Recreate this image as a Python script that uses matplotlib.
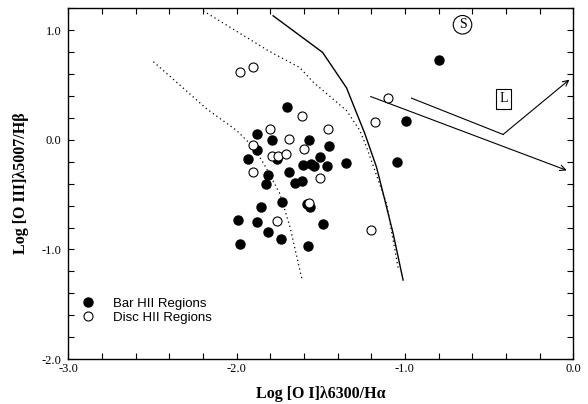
import numpy as np
import matplotlib
matplotlib.use("Agg")
import matplotlib.pyplot as plt
from matplotlib.ticker import MultipleLocator, FormatStrFormatter

plt.rcParams['axes.unicode_minus'] = False

# --------------------- data --------------------- #
# Bar HII regions (filled circles)
bar_x = [-1.703, -1.881, -1.790, -1.569, -1.450, -1.881, -1.931, -1.759,
         -1.505, -1.603, -1.560, -1.540, -1.460, -1.351, -1.688, -1.812,
         -1.826, -1.650, -1.614, -1.733, -1.852, -1.584, -1.565, -1.990,
         -1.881, -1.816, -1.737, -1.489, -1.980, -1.578, -0.800, -0.994,
         -1.050]
bar_y = [0.296, 0.055, -0.006, 0.000, -0.061, -0.097, -0.179, -0.173,
         -0.158, -0.234, -0.220, -0.242, -0.236, -0.213, -0.297, -0.322,
         -0.406, -0.394, -0.376, -0.570, -0.612, -0.582, -0.613, -0.734,
         -0.752, -0.840, -0.909, -0.770, -0.952, -0.965, 0.730, 0.175,
         -0.206]

# Disc HII regions (open circles)
disc_x = [-1.980, -1.905, -1.609, -1.800, -1.454, -1.690, -1.901, -1.600,
          -1.790, -1.752, -1.709, -1.903, -1.505, -1.572, -1.757, -1.203,
          -1.103, -1.179]
disc_y = [0.621, 0.666, 0.212, 0.100, 0.100, 0.006, -0.052, -0.086,
          -0.145, -0.145, -0.127, -0.290, -0.349, -0.580, -0.740, -0.825,
          0.380, 0.160]

# model boundary curves
solid_x = [-1.783, -1.489, -1.347, -1.238, -1.169, -1.129, -1.070, -1.011]
solid_y = [1.130, 0.796, 0.473, 0.055, -0.249, -0.491, -0.855, -1.279]

dot1_x = [-2.494, -2.178, -2.000, -1.901, -1.844, -1.822, -1.743, -1.683, -1.612]
dot1_y = [0.711, 0.282, 0.085, -0.067, -0.204, -0.264, -0.491, -0.794, -1.270]

dot2_x = [-2.198, -1.812, -1.624, -1.545, -1.347, -1.268, -1.228, -1.109, -1.040]
dot2_y = [1.175, 0.812, 0.657, 0.525, 0.266, 0.085, -0.067, -0.583, -1.173]

# shock (S) and low-luminosity (L) tracks
arrow_low = [(-1.204, 0.394), (-0.039, -0.279)]
track_L = [(-0.961, 0.379), (-0.417, 0.048), (-0.023, 0.548)]

# ---------------------------- plotting ------------------------------ #
fig = plt.figure(figsize=(5.88, 4.04), dpi=100)
ax = fig.add_axes([0.116, 0.111, 0.859, 0.869])

ax.plot(solid_x, solid_y, 'k-', lw=1.0)
ax.plot(dot1_x, dot1_y, color='k', lw=0.9, linestyle=(0, (1, 2.5)))
ax.plot(dot2_x, dot2_y, color='k', lw=0.9, linestyle=(0, (1, 2.5)))

ax.plot(bar_x, bar_y, 'o', color='k', markersize=6.5, mec='k',
        label='Bar HII Regions', zorder=3)
ax.plot(disc_x, disc_y, 'o', mfc='white', mec='k', markersize=6.5, mew=0.8,
        label='Disc HII Regions', zorder=4)

# arrows
ax.annotate('', xy=arrow_low[1], xytext=arrow_low[0],
            arrowprops=dict(arrowstyle='->', lw=0.8, color='k',
                            shrinkA=0, shrinkB=0))
ax.plot([track_L[0][0], track_L[1][0]], [track_L[0][1], track_L[1][1]],
        'k-', lw=0.8)
ax.annotate('', xy=track_L[2], xytext=track_L[1],
            arrowprops=dict(arrowstyle='->', lw=0.8, color='k',
                            shrinkA=0, shrinkB=0))

ax.text(-0.658, 1.048, 'S', family='Liberation Serif', fontsize=10,
        ha='center', va='center',
        bbox=dict(boxstyle='circle,pad=0.2', fc='white', ec='k', lw=0.8))
ax.text(-0.413, 0.372, 'L', family='Liberation Serif', fontsize=10,
        ha='center', va='center',
        bbox=dict(boxstyle='square,pad=0.25', fc='white', ec='k', lw=0.8))

# axes, ticks
ax.set_xlim(-3.0, 0.0)
ax.set_ylim(-2.0, 1.2)
ax.xaxis.set_major_locator(MultipleLocator(1.0))
ax.xaxis.set_minor_locator(MultipleLocator(0.2))
ax.yaxis.set_major_locator(MultipleLocator(1.0))
ax.yaxis.set_minor_locator(MultipleLocator(0.2))
ax.xaxis.set_major_formatter(FormatStrFormatter('%.1f'))
ax.yaxis.set_major_formatter(FormatStrFormatter('%.1f'))
ax.tick_params(which='both', direction='in', top=True, right=True,
               length=4, width=0.8)
ax.tick_params(axis='x', pad=3)
ax.tick_params(axis='y', pad=5)
for lab in ax.get_xticklabels() + ax.get_yticklabels():
    lab.set_family('Liberation Serif')
    lab.set_fontsize(9)
for sp in ax.spines.values():
    sp.set_linewidth(1.0)

ax.set_xlabel('Log [O I]\u03bb6300/H\u03b1', family='Liberation Serif',
              fontweight='bold', fontsize=11.5, labelpad=8)
ax.set_ylabel('Log [O III]\u03bb5007/H\u03b2', family='Liberation Serif',
              fontweight='bold', fontsize=11.5, labelpad=9)

ax.legend(loc='lower left', bbox_to_anchor=(0.005, 0.07), frameon=False,
          prop={'family': 'Liberation Sans', 'size': 9.5},
          handlelength=1.0, handletextpad=1.4, labelspacing=0.15,
          borderaxespad=0.4, markerscale=1.0)

fig.savefig('out.png', dpi=100)
